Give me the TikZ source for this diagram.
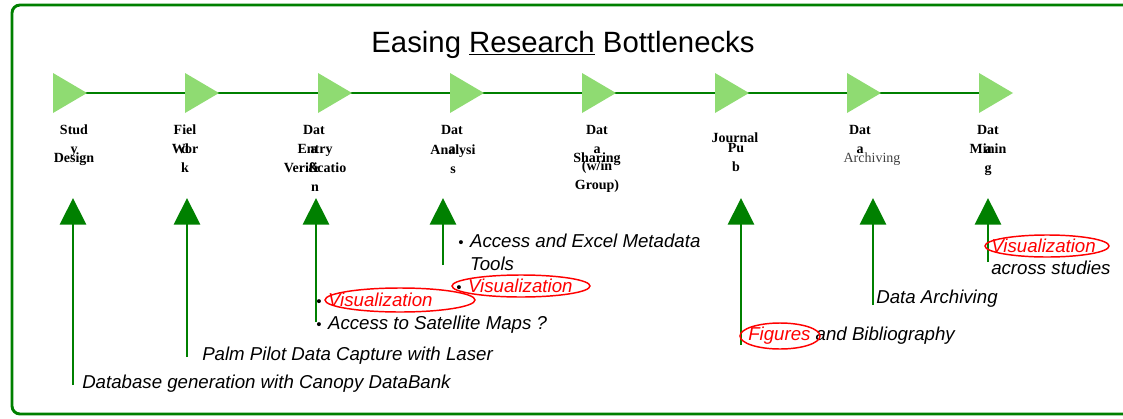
\documentclass[tikz,border=0pt]{standalone}
\usepackage{fontspec}
\setmainfont{Liberation Serif}
\setsansfont{Liberation Sans}
\usepackage{xcolor}
\definecolor{StageGreen}{HTML}{008000}
\definecolor{TriGreen}{HTML}{8FDB72}
\definecolor{NoteRed}{HTML}{FF0000}
\definecolor{ArchGray}{HTML}{404040}
\usepackage{tikz}
\usetikzlibrary{arrows.meta}
\tikzset{
  frameline/.style={
    draw=StageGreen,
    line width=2.2pt,
    rounded corners=6pt
  },
  stagetri/.style={
    fill=TriGreen,
    draw=none
  },
  timeline/.style={
    draw=StageGreen,
    line width=2.2pt
  },
  stagelab/.style={
    font=\fontsize{10.5}{14.25}\selectfont\bfseries,
    align=center,
    inner sep=0pt,
    anchor=north
  },
  upline/.style={
    draw=StageGreen,
    line width=2.2pt,
    -{Triangle[width=19.5pt,length=20pt]}
  },
  notetext/.style={
    font=\sffamily\itshape\fontsize{14}{17}\selectfont,
    inner sep=0pt,
    anchor=west
  },
  redring/.style={
    draw=NoteRed,
    line width=1.1pt
  }
}
\newcommand{\notebullet}{{\fontsize{11}{13}\selectfont •}\hspace{5pt}}

\begin{document}
\begin{tikzpicture}[x=0.75pt,y=-0.75pt]
  \useasboundingbox (0,0) rectangle (1123,418);
  \draw[frameline] (12,5) rectangle (1140,414);
  \node[font=\sffamily\fontsize{22}{26}\selectfont, inner sep=0pt] (title) at (563,45) {Easing \underline{Research} Bottlenecks};
  \foreach \i/\x in {1/53,2/185,3/318,4/450,5/582,6/715,7/847,8/979}{\coordinate (s\i) at (\x,93);}
  \draw[timeline] (s1) -- (s8);
  \foreach \i/\x in {1/53,2/185,3/318,4/450,5/582,6/715,7/847,8/979}{\fill[stagetri] (\x,73) -- (\x+34,93) -- (\x,113) -- cycle;}
  \node[stagelab] (lab1a) at (74,125) {Stud\\y};
  \node[stagelab] (lab1b) at (74,153) {Design};
  \node[stagelab] (lab2a) at (185,125) {Fiel\\d};
  \node[stagelab] (lab2b) at (185,144) {Wor\\k};
  \node[stagelab] (lab3a) at (314,125) {Dat\\a\\\&};
  \node[stagelab] (lab3b) at (315,144) {Entry\\Verificatio\\n};
  \node[stagelab] (lab4a) at (452,125) {Dat\\a};
  \node[stagelab] (lab4b) at (453,145) {Analysi\\s};
  \node[stagelab] (lab5a) at (597,125) {Dat\\a};
  \node[stagelab] (lab5b) at (597,153) {Sharing};
  \node[stagelab] (lab5c) at (597,161) {(w/in\\Group)};
  \node[stagelab] (lab6a) at (735,133) {Journal};
  \node[stagelab] (lab6b) at (736,143) {Pu\\b};
  \node[stagelab] (lab7a) at (860,125) {Dat\\a};
  \node[stagelab, font=\fontsize{10.5}{14.25}\selectfont, text=ArchGray] (lab7b) at (872,153) {Archiving};
  \node[stagelab] (lab8a) at (988,125) {Dat\\a};
  \node[stagelab] (lab8b) at (988,144) {Minin\\g};
  \foreach \i/\x/\yb in {1/73/385,2/187/357,3/316/322,4/443/265,5/741/345,6/873/305,7/988/262}{
    \coordinate (b\i) at (\x,\yb);
    \coordinate (t\i) at (\x,198);
    \draw[upline] (b\i) -- (t\i);
  }
  \node[notetext] (canopy) at (82,384) {Database generation with Canopy DataBank};
  \node[notetext] (palm) at (202,356) {Palm Pilot Data Capture with Laser};
  \node[notetext] (vis1) at (316,300) {\notebullet\textcolor{NoteRed}{Visualization}};
  \node[notetext] (sat) at (316,325) {\notebullet Access to Satellite Maps ?};
  \node[notetext, align=left] (excel) at (458,252) {\notebullet Access and Excel Metadata\\\phantom{\notebullet}Tools};
  \node[notetext] (vis2) at (456,286) {\notebullet\textcolor{NoteRed}{Visualization}};
  \node[notetext] (figs) at (748,336) {\textcolor{NoteRed}{Figures} and Bibliography};
  \node[notetext] (archive) at (876,299) {Data Archiving};
  \node[notetext] (vis3) at (991,246) {\textcolor{NoteRed}{Visualization}};
  \node[notetext] (across) at (991,268) {across studies};
  \draw[redring] (400,300) ellipse (75 and 12);
  \draw[redring] (521,286) ellipse (69 and 11);
  \draw[redring] (780,336) ellipse (40 and 13);
  \draw[redring] (1047,246) ellipse (62 and 11);
\end{tikzpicture}
\end{document}
